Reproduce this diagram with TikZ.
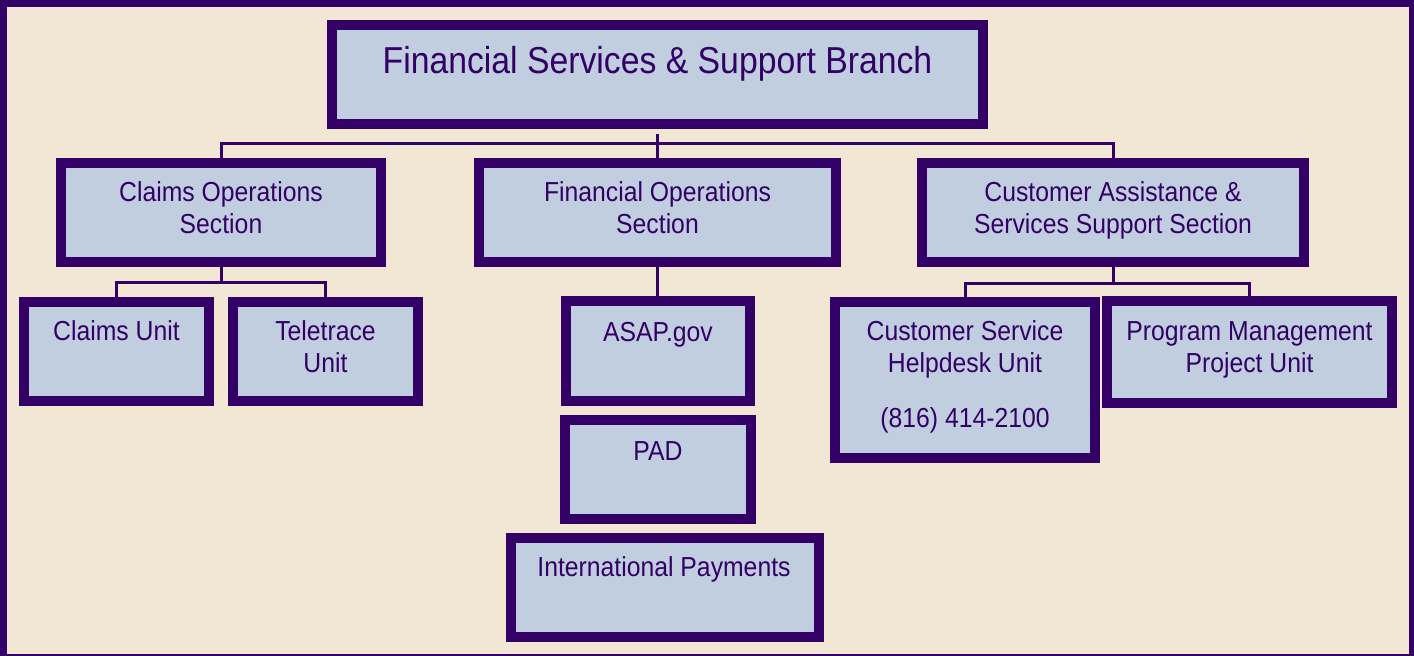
\documentclass[tikz,border=0pt]{standalone}
\usepackage{fontspec}
\setmainfont{Liberation Sans}[FakeStretch=0.9]
\definecolor{purp}{HTML}{330066}
\definecolor{boxfill}{HTML}{C1CEE0}
\definecolor{beige}{HTML}{F2E7D5}
\begin{document}
\begin{tikzpicture}[x=1pt,y=-1pt,
  box/.style={draw=purp, fill=boxfill, line width=10pt, inner sep=0pt, rectangle},
  txt/.style={text=purp, align=center, inner sep=0pt, font=\fontsize{27.5}{31.6}\selectfont, anchor=base},
  conn/.style={draw=purp, line width=3pt}]
\useasboundingbox (0,0) rectangle (1414,656);
\fill[purp] (0,0) rectangle (1414,656);
\fill[beige] (7,7) rectangle (1409,654);
% boxes
\node[box, minimum width=651pt, minimum height=99pt] (top) at (657.5,74.5) {};
\node[box, minimum width=320pt, minimum height=99pt] (cos) at (221,212.5) {};
\node[box, minimum width=357pt, minimum height=99pt] (fos) at (657.5,212.5) {};
\node[box, minimum width=382pt, minimum height=99pt] (cas) at (1113,212.5) {};
\node[box, minimum width=185pt, minimum height=99pt] (claims) at (116.5,351.5) {};
\node[box, minimum width=185pt, minimum height=99pt] (tele) at (325.5,351.5) {};
\node[box, minimum width=184pt, minimum height=100pt] (asap) at (658,351) {};
\node[box, minimum width=186pt, minimum height=99pt] (pad) at (658,469.5) {};
\node[box, minimum width=308pt, minimum height=99pt] (intl) at (665,587.5) {};
\node[box, minimum width=260pt, minimum height=155.7pt] (help) at (965,379.8) {};
\node[box, minimum width=285pt, minimum height=102pt] (prog) at (1249.5,352) {};
% connectors
\coordinate (bus1) at (657.5,143.7);
\coordinate (bus2) at (221,282);
\coordinate (bus3) at (1113,283);
\draw[conn] ([yshift=-5pt]top.south) -- (bus1);
\draw[conn] ([yshift=-5pt]cos.north) -- (cos.north |- bus1) -- (cas.north |- bus1) -- ([yshift=-5pt]cas.north);
\draw[conn] (bus1) -- ([yshift=-5pt]fos.north);
\draw[conn] ([yshift=5pt]cos.south) -- (bus2);
\draw[conn] ([yshift=-5pt]claims.north) -- (claims.north |- bus2) -- (tele.north |- bus2) -- ([yshift=-5pt]tele.north);
\draw[conn] ([yshift=5pt]fos.south) -- ([yshift=-5pt]fos.south |- asap.north);
\draw[conn] ([yshift=5pt]cas.south) -- (bus3);
\draw[conn] ([yshift=-5pt]help.north) -- (help.north |- bus3) -- (prog.north |- bus3) -- ([yshift=-5pt]prog.north);
% texts (anchor=base sits on the last line's baseline)
\node[txt, font=\fontsize{37.5}{42}\selectfont] (ttop) at (657.5,73.3) {Financial Services \& Support Branch};
\node[txt] (tcos) at (221,233.3) {Claims Operations\\Section};
\node[txt] (tfos) at (657.5,233.3) {Financial Operations\\Section};
\node[txt] (tcas) at (1113,233.3) {Customer Assistance \&\\Services Support Section};
\node[txt] (tclaims) at (116.5,340.7) {Claims Unit};
\node[txt] (ttele) at (325.5,372.5) {Teletrace\\Unit};
\node[txt] (tasap) at (658,341) {ASAP.gov};
\node[txt] (tpad) at (658,460) {PAD};
\node[txt] (tintl) at (664,576.7) {International Payments};
\node[txt] (thelp) at (965,427.7) {Customer Service\\Helpdesk Unit\\[23.8pt](816) 414-2100};
\node[txt] (tprog) at (1249.5,372.5) {Program Management\\Project Unit};
\end{tikzpicture}
\end{document}
